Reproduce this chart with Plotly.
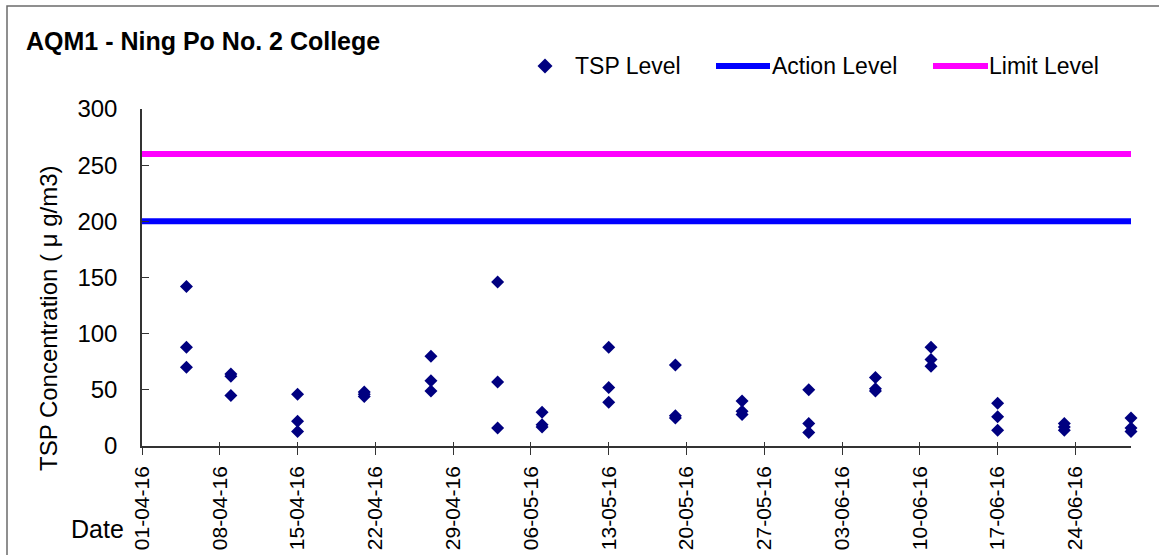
import plotly.graph_objects as go

# ---- data ----
sample_dates = ["2016-04-05", "2016-04-09", "2016-04-15", "2016-04-21", "2016-04-27",
                "2016-05-03", "2016-05-07", "2016-05-13", "2016-05-19", "2016-05-25",
                "2016-05-31", "2016-06-06", "2016-06-11", "2016-06-17", "2016-06-23",
                "2016-06-29"]
reading_1 = [142, 64, 46, 48, 80, 146, 30, 88, 72, 40, 50, 61, 88, 38, 20, 25]
reading_2 = [88, 62, 22, 46, 58, 57, 19, 52, 27, 31, 20, 51, 77, 26, 17, 16]
reading_3 = [70, 45, 13, 44, 49, 16, 17, 39, 25, 28, 12, 49, 71, 14, 14, 13]

axis_dates = ["2016-04-01", "2016-06-29"]
action_level = [200, 200]
limit_level = [260, 260]

y_ticks = [0, 50, 100, 150, 200, 250, 300]

# flatten TSP series
tsp_x, tsp_y = [], []
for d, a, b, c in zip(sample_dates, reading_1, reading_2, reading_3):
    tsp_x += [d, d, d]
    tsp_y += [a, b, c]

FONT = "Liberation Sans, Arial, sans-serif"
W, H = 1159, 555
L, R, T, B = 142, 1131, 109, 446


def px(x):
    return (x - L) / (R - L)


def py(y):
    return (B - y) / (B - T)


fig = go.Figure()
fig.add_trace(go.Scatter(x=axis_dates, y=limit_level, mode="lines",
                         line=dict(color="#FF00FF", width=6), name="Limit Level",
                         showlegend=False, cliponaxis=False))
fig.add_trace(go.Scatter(x=axis_dates, y=action_level, mode="lines",
                         line=dict(color="#0000FF", width=6), name="Action Level",
                         showlegend=False, cliponaxis=False))
fig.add_trace(go.Scatter(x=tsp_x, y=tsp_y, mode="markers",
                         marker=dict(symbol="diamond", size=10, color="#000080",
                                     line=dict(width=0)),
                         name="TSP Level", showlegend=False, cliponaxis=False))

shapes = []
# outer border
shapes.append(dict(type="rect", xref="paper", yref="paper",
                   x0=px(7), x1=px(1175), y0=py(580), y1=py(6),
                   line=dict(color="#6b6b6b", width=1.5), layer="below"))
# legend symbols
shapes.append(dict(type="path", xref="paper", yref="paper",
                   path=f"M{px(545)},{py(58.5)} L{px(552.5)},{py(66)} L{px(545)},{py(73.5)} L{px(537.5)},{py(66)} Z",
                   fillcolor="#000080", line=dict(width=0)))
shapes.append(dict(type="line", xref="paper", yref="paper",
                   x0=px(716), x1=px(770), y0=py(66), y1=py(66),
                   line=dict(color="#0000FF", width=6)))
shapes.append(dict(type="line", xref="paper", yref="paper",
                   x0=px(933), x1=px(988), y0=py(66), y1=py(66),
                   line=dict(color="#FF00FF", width=6)))

annotations = [
    dict(text="TSP Level", x=px(573), y=py(66), xref="paper", yref="paper",
         xanchor="left", yanchor="middle", showarrow=False,
         font=dict(family=FONT, size=23, color="black")),
    dict(text="Action Level", x=px(770), y=py(66), xref="paper", yref="paper",
         xanchor="left", yanchor="middle", showarrow=False,
         font=dict(family=FONT, size=23, color="black")),
    dict(text="Limit Level", x=px(987), y=py(66), xref="paper", yref="paper",
         xanchor="left", yanchor="middle", showarrow=False,
         font=dict(family=FONT, size=23, color="black")),
    dict(text="TSP Concentration ( μ g/m3)", x=px(48), y=py(318), xref="paper", yref="paper",
         xanchor="center", yanchor="middle", textangle=-90, showarrow=False,
         font=dict(family=FONT, size=24, color="black")),
    dict(text="Date", x=px(97), y=py(529), xref="paper", yref="paper",
         xanchor="center", yanchor="middle", showarrow=False,
         font=dict(family=FONT, size=25, color="black")),
]

fig.update_layout(
    width=W, height=H,
    margin=dict(l=L, r=W - R, t=T, b=H - B, pad=0, autoexpand=False),
    paper_bgcolor="white", plot_bgcolor="white",
    showlegend=False,
    title=dict(text="<b>AQM1 - Ning Po No. 2 College</b>", x=26 / W, xanchor="left",
               y=1 - 41 / H, yanchor="middle",
               font=dict(family=FONT, size=25, color="black")),
    shapes=shapes, annotations=annotations,
    xaxis=dict(type="date", range=axis_dates, tick0="2016-04-01", dtick=7 * 86400000,
               tickformat="%d-%m-%y", tickangle=-90, ticks="outside", ticklen=7,
               tickwidth=1.2, tickcolor="#333", showline=True, linecolor="#333",
               linewidth=1.5, showgrid=False, zeroline=False, automargin=False,
               tickfont=dict(family=FONT, size=21, color="black"), ticklabelstandoff=3),
    xaxis2=dict(type="date", range=axis_dates, tick0="2016-04-01", dtick=7 * 86400000,
                overlaying="x", anchor="y", side="bottom", ticks="inside", ticklen=4,
                tickwidth=1.2, tickcolor="#333", showticklabels=False, showgrid=False,
                zeroline=False, showline=False, automargin=False),
    yaxis=dict(range=[0, 300], tickvals=y_ticks, ticks="inside", ticklen=7,
               tickwidth=1.2, tickcolor="#333", showline=True, linecolor="#333",
               linewidth=1.5, showgrid=False, zeroline=False, automargin=False,
               tickfont=dict(family=FONT, size=24, color="black"), ticklabelstandoff=18),
)
fig.add_trace(go.Scatter(x=axis_dates, y=[None, None], xaxis="x2", yaxis="y",
                         mode="markers", showlegend=False, hoverinfo="skip"))

fig.write_html("out.html", config={"displayModeBar": False},
               post_script="document.body.style.margin='0px';document.body.style.overflow='hidden';")
